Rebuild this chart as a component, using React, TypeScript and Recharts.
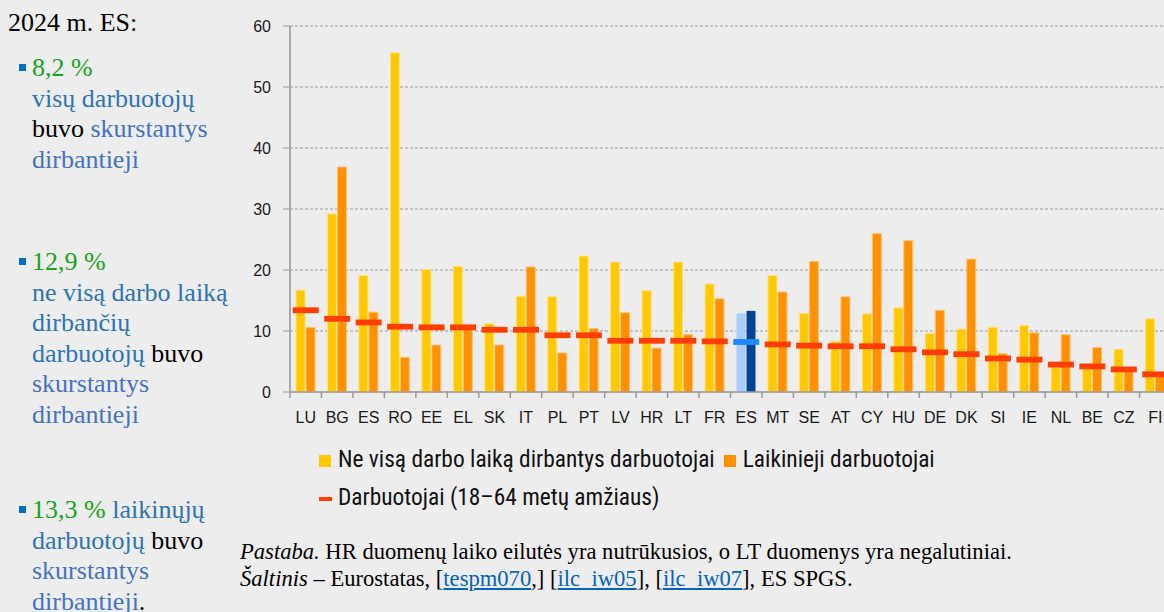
import React from 'react';
import {
  Bar,
  CartesianGrid,
  Cell,
  ComposedChart,
  Line,
  XAxis,
  YAxis,
} from 'recharts';

const categories = [
  'LU', 'BG', 'ES', 'RO', 'EE', 'EL', 'SK', 'IT', 'PL', 'PT', 'LV', 'HR', 'LT', 'FR',
  'ES', 'MT', 'SE', 'AT', 'CY', 'HU', 'DE', 'DK', 'SI', 'IE', 'NL', 'BE', 'CZ', 'FI',
];
const partTime = [
  16.7, 29.2, 19.1, 55.6, 20.1, 20.6, 11.2, 15.7, 15.6, 22.3, 21.3, 16.6, 21.3, 17.7,
  12.9, 19.1, 12.9, 8.3, 12.8, 13.8, 9.6, 10.3, 10.6, 10.9, 4.4, 4.0, 7.0, 12.0,
];
const temporary = [
  10.6, 36.9, 13.1, 5.7, 7.7, 10.4, 7.7, 20.5, 6.4, 10.4, 13.0, 7.2, 9.4, 15.3,
  13.3, 16.4, 21.4, 15.6, 26.0, 24.8, 13.4, 21.8, 6.3, 9.7, 9.4, 7.3, 3.5, 2.8,
];
const allWorkers = [
  13.4, 12.0, 11.4, 10.7, 10.6, 10.6, 10.2, 10.2, 9.3, 9.3, 8.4, 8.4, 8.4, 8.3,
  8.2, 7.8, 7.6, 7.5, 7.5, 7.0, 6.5, 6.2, 5.5, 5.3, 4.5, 4.2, 3.7, 2.9,
];
const yTicks = [0, 10, 20, 30, 40, 50, 60];
const EU_INDEX = 14;

const YELLOW = '#FFC800';
const ORANGE = '#FF9100';
const RED = '#FF3D00';
const BLUE_LIGHT = '#A8CEFF';
const BLUE_DARK = '#004494';
const BLUE_MARK = '#1E88FF';

const data = categories.map((code, i) => ({
  code,
  partTime: partTime[i],
  temporary: temporary[i],
  all: allWorkers[i],
}));

const CHART_W = 950;
const CHART_H = 430;
const Y_W = 60;
const MARGIN = { top: 26, right: 9, left: 0, bottom: 0 };
const BAND = (CHART_W - Y_W - MARGIN.right - MARGIN.left) / categories.length;

const serif = '"Liberation Serif", "Times New Roman", serif';
const sans = '"Liberation Sans", Arial, sans-serif';
const narrow = '"Roboto Condensed", Roboto, sans-serif';

const XTick = (props: any) => {
  const { x, y, payload } = props;
  return (
    <g>
      <line x1={x - BAND / 2} x2={x - BAND / 2} y1={y} y2={y + 6} stroke="#999" strokeWidth={1.5} />
      <text x={x} y={y + 31} textAnchor="middle" fontSize={16} fontFamily={sans} fill="#1a1a1a">
        {payload.value}
      </text>
    </g>
  );
};

const Marker = (props: any) => {
  const { cx, cy, index } = props;
  if (cx == null || cy == null) return <g key={`m-${index}`} />;
  return (
    <rect
      key={`m-${index}`}
      x={cx - 13}
      y={cy - 2.9}
      width={26}
      height={5.8}
      fill={index === EU_INDEX ? BLUE_MARK : RED}
    />
  );
};

const Bullet = ({ top }: { top: number }) => (
  <div style={{ position: 'absolute', left: 19, top, width: 7, height: 7, background: '#0070C0' }} />
);

const green = { color: '#1AA31A' };
const blue = { color: '#2E74B5' };
const blue2 = { color: '#4472C4' };
const black = { color: '#000' };

const textBlock: React.CSSProperties = {
  position: 'absolute',
  left: 32,
  width: 205,
  fontFamily: serif,
  fontSize: 26,
  lineHeight: '30.5px',
};

const legendRow: React.CSSProperties = {
  position: 'absolute',
  left: 319,
  fontFamily: narrow,
  fontSize: 23.4,
  color: '#111',
  lineHeight: '24px',
  whiteSpace: 'nowrap',
};

export default function App() {
  return (
    <div
      style={{
        position: 'absolute',
        left: 0,
        top: 0,
        width: 1164,
        height: 612,
        overflow: 'hidden',
        background: '#EDEDED',
      }}
    >
      <div style={{ position: 'absolute', left: 8, top: 8, fontFamily: serif, fontSize: 26, lineHeight: '30px' }}>
        2024 m. ES:
      </div>

      <Bullet top={64} />
      <div style={{ ...textBlock, top: 53 }}>
        <span style={green}>8,2 %</span>
        <br />
        <span style={blue}>visų darbuotojų</span>
        <br />
        <span style={black}>buvo </span>
        <span style={blue2}>skurstantys dirbantieji</span>
      </div>

      <Bullet top={258} />
      <div style={{ ...textBlock, top: 247 }}>
        <span style={green}>12,9 %</span>
        <br />
        <span style={blue}>ne visą darbo laiką dirbančių darbuotojų</span>
        <span style={black}> buvo </span>
        <span style={blue2}>skurstantys dirbantieji</span>
      </div>

      <Bullet top={506} />
      <div style={{ ...textBlock, top: 495 }}>
        <span style={green}>13,3 %</span>
        <span style={blue}> laikinųjų darbuotojų</span>
        <span style={black}> buvo </span>
        <span style={blue2}>skurstantys dirbantieji</span>
        <span style={black}>.</span>
      </div>

      <div style={{ position: 'absolute', left: 230, top: 0 }}>
        <ComposedChart
          width={CHART_W}
          height={CHART_H}
          data={data}
          margin={MARGIN}
          barSize={9}
          barGap={1}
        >
          <CartesianGrid vertical={false} stroke="#9a9a9a" strokeDasharray="3 2" strokeWidth={1} />
          <XAxis
            dataKey="code"
            height={CHART_H - 392}
            interval={0}
            tickSize={0}
            tickMargin={0}
            tick={<XTick />}
            axisLine={{ stroke: '#999', strokeWidth: 1.5 }}
            tickLine={false}
          />
          <YAxis
            width={Y_W}
            domain={[0, 60]}
            ticks={yTicks}
            interval={0}
            tickSize={7}
            tickMargin={12}
            axisLine={{ stroke: '#aaa', strokeWidth: 2 }}
            tickLine={{ stroke: '#999' }}
            tick={{ fontSize: 16, fontFamily: sans, fill: '#1a1a1a' }}
          />
          <Bar dataKey="partTime" fill={YELLOW} stroke="#FFE27A" strokeWidth={1} isAnimationActive={false}>
            {data.map((_, i) => (
              <Cell key={i} fill={i === EU_INDEX ? BLUE_LIGHT : YELLOW} stroke={i === EU_INDEX ? 'none' : '#FFE27A'} />
            ))}
          </Bar>
          <Bar dataKey="temporary" fill={ORANGE} stroke="#FFC37A" strokeWidth={1} isAnimationActive={false}>
            {data.map((_, i) => (
              <Cell key={i} fill={i === EU_INDEX ? BLUE_DARK : ORANGE} stroke={i === EU_INDEX ? 'none' : '#FFC37A'} />
            ))}
          </Bar>
          <Line
            dataKey="all"
            stroke="none"
            dot={Marker}
            activeDot={false}
            legendType="none"
            isAnimationActive={false}
          />
        </ComposedChart>
      </div>

      <div style={{ ...legendRow, top: 447 }}>
        <span style={{ display: 'inline-block', width: 12, height: 12, background: YELLOW, marginRight: 7 }} />
        Ne visą darbo laiką dirbantys darbuotojai
        <span style={{ display: 'inline-block', width: 12, height: 12, background: ORANGE, marginLeft: 9, marginRight: 7 }} />
        Laikinieji darbuotojai
      </div>
      <div style={{ ...legendRow, top: 485 }}>
        <span style={{ display: 'inline-block', width: 13, height: 3.5, background: RED, marginRight: 6, verticalAlign: 'middle' }} />
        Darbuotojai (18–64 metų amžiaus)
      </div>

      <div style={{ position: 'absolute', left: 240, top: 538, fontFamily: serif, fontSize: 22.6, lineHeight: '27px', color: '#000', whiteSpace: 'nowrap' }}>
        <div>
          <i>Pastaba.</i> HR duomenų laiko eilutės yra nutrūkusios, o LT duomenys yra negalutiniai.
        </div>
        <div>
          <i>Šaltinis</i> – Eurostatas, [<u style={{ color: '#0563C1' }}>tespm070</u>,] [<u style={{ color: '#0563C1' }}>ilc_iw05</u>], [<u style={{ color: '#0563C1' }}>ilc_iw07</u>], ES SPGS.
        </div>
      </div>
    </div>
  );
}
